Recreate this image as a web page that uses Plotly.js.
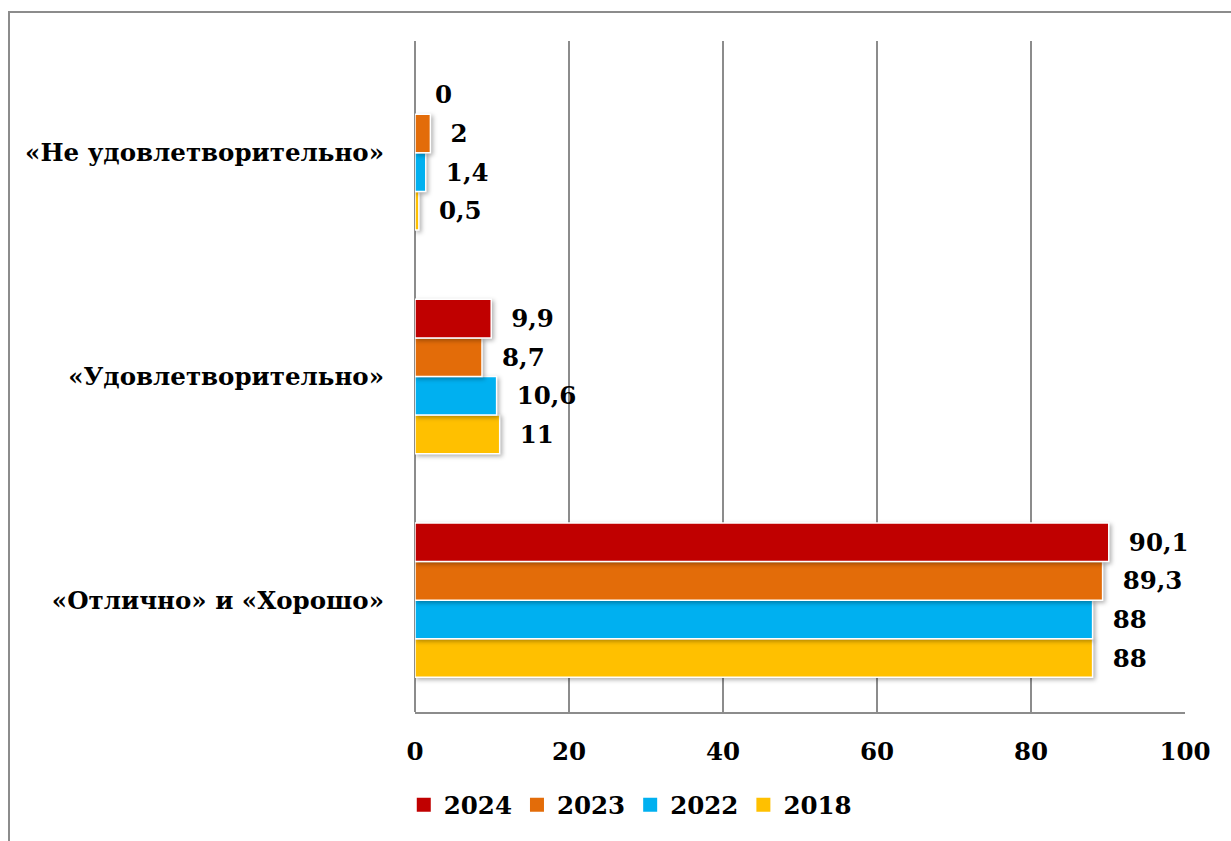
<!DOCTYPE html>
<html>
<head>
<meta charset="utf-8">
<script src="https://cdn.plot.ly/plotly-3.0.1.min.js"></script>
<style>
  html, body { margin: 0; padding: 0; background: #fff; }
  #wrap { position: relative; width: 1231px; height: 841px; overflow: hidden; }
  #chart { width: 1231px; height: 841px; }
  #frame { position: absolute; left: 8px; top: 11px; width: 1400px; height: 1000px;
           border-left: 2px solid #8c8c8c; border-top: 2px solid #8c8c8c; pointer-events: none; }
  .trace.bars .point path { filter: drop-shadow(2px 2px 2px rgba(0,0,0,0.3)); }
</style>
</head>
<body>
<div id="wrap">
  <div id="chart"></div>
  <div id="frame"></div>
</div>
<script>
const categories = ['«Отлично» и «Хорошо»', '«Удовлетворительно»', '«Не удовлетворительно»'];
const years = ['2018', '2022', '2023', '2024'];
const v2018 = [88, 11, 0.5];
const v2022 = [88, 10.6, 1.4];
const v2023 = [89.3, 8.7, 2];
const v2024 = [90.1, 9.9, 0];
const colors = { '2018': '#FFC000', '2022': '#00B0F0', '2023': '#E36C09', '2024': '#C00000' };

const FONT = 'DejaVu Serif, serif';
const FS = 24.5;
const series = { '2018': v2018, '2022': v2022, '2023': v2023, '2024': v2024 };

const fmt = v => '\u00a0\u00a0' + String(v).replace('.', ',');
const boldFont = { family: FONT, size: FS, color: '#000', weight: 'bold' };

const barTraces = years.map(y => ({
  type: 'bar',
  orientation: 'h',
  name: y,
  y: categories,
  x: series[y],
  text: series[y].map(fmt),
  textposition: 'outside',
  textfont: boldFont,
  constraintext: 'none',
  cliponaxis: false,
  showlegend: false,
  marker: { color: colors[y], line: { color: '#ffffff', width: series[y].map(v => v === 0 ? 0 : 1.5) } },
  hoverinfo: 'x+name'
}));

const legendTraces = years.map(y => ({
  type: 'scatter',
  mode: 'markers',
  name: y,
  x: [null],
  y: [null],
  showlegend: true,
  marker: { symbol: 'square', size: 14, color: colors[y] },
  hoverinfo: 'skip'
}));

const layout = {
  width: 1231,
  height: 841,
  margin: { l: 415, r: 46, t: 41, b: 129 },
  paper_bgcolor: '#ffffff',
  plot_bgcolor: '#ffffff',
  barmode: 'group',
  bargap: 0.31,
  bargroupgap: 0,
  font: boldFont,
  showlegend: true,
  legend: {
    orientation: 'h',
    traceorder: 'reversed',
    xref: 'container', yref: 'container',
    x: 0.512, xanchor: 'center',
    y: 0.043, yanchor: 'middle',
    font: boldFont,
    itemwidth: 30,
    bgcolor: 'rgba(0,0,0,0)'
  },
  xaxis: {
    range: [0, 100],
    dtick: 20,
    tick0: 0,
    showgrid: true,
    gridcolor: '#8c8c8c',
    gridwidth: 1.5,
    zeroline: true,
    zerolinecolor: '#8c8c8c',
    zerolinewidth: 1.5,
    showline: true,
    linecolor: '#8c8c8c',
    linewidth: 1.5,
    ticks: '',
    ticklabelstandoff: 17,
    tickfont: boldFont,
    fixedrange: true
  },
  yaxis: {
    type: 'category',
    categoryarray: categories,
    categoryorder: 'array',
    showgrid: false,
    showline: false,
    ticks: '',
    ticklabelstandoff: 30,
    tickfont: boldFont,
    fixedrange: true
  }
};

Plotly.newPlot('chart', barTraces.concat(legendTraces), layout, { displayModeBar: false, staticPlot: true });
</script>
</body>
</html>
